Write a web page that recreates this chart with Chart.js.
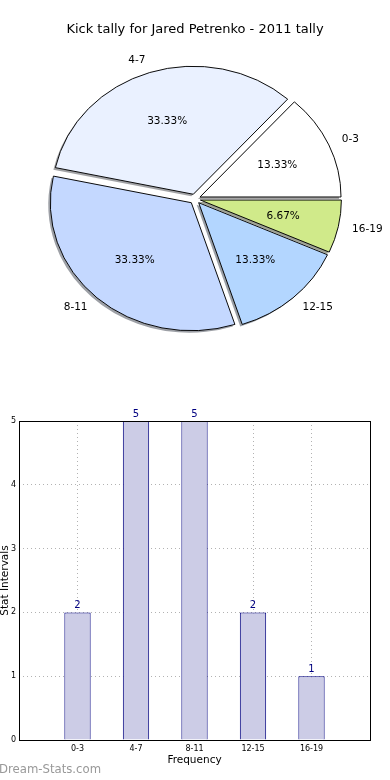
<!DOCTYPE html>
<html><head><meta charset="utf-8">
<script src="https://cdn.jsdelivr.net/npm/chart.js@4/dist/chart.umd.min.js"></script>
<style>
html,body{margin:0;padding:0;background:#fff;width:390px;height:780px;overflow:hidden}
#pie{position:absolute;left:0;top:0}
#bar{position:absolute;left:0;top:396px}
</style></head><body>
<canvas id="pie" width="390" height="398"></canvas>
<canvas id="bar" width="390" height="384"></canvas>
<script>
const chartTitle = 'Kick tally for Jared Petrenko - 2011 tally';
const categories = ['0-3', '4-7', '8-11', '12-15', '16-19'];
const counts = [2, 5, 5, 2, 1];
const yTicks = [0, 1, 2, 3, 4, 5];
const sliceColors = ['#ffffff', '#eaf1ff', '#c4d8ff', '#b3d6ff', '#d0ea8a'];
const xAxisTitle = 'Frequency';
const yAxisTitle = 'Stat Intervals';
const watermark = 'Dream-Stats.com';

const FONT = "'DejaVu Sans', sans-serif";
const total = counts.reduce((a, b) => a + b, 0);
const pct = counts.map(v => (v / total * 100).toFixed(2) + '%');

// pie drawn counter-clockwise from east (matplotlib style): reverse for Chart.js
const pieLabels = categories.slice().reverse();
const pieData = counts.slice().reverse();
const pieColors = sliceColors.slice().reverse();
const piePct = pct.slice().reverse();

const K = 128 / 141;   // vertical squash of the pie (elliptical axes)
const EXPLODE = 5.5;   // radial explode distance (px)

function shadowOf(hex) {
  const n = parseInt(hex.slice(1), 16);
  const r = (n >> 16) & 255, g = (n >> 8) & 255, b = n & 255;
  return `rgba(${Math.round(r * 0.3)},${Math.round(g * 0.3)},${Math.round(b * 0.3)},0.5)`;
}

const pieShape = {
  id: 'pieShape',
  beforeDatasetsDraw(chart) {
    const ctx = chart.ctx;
    const meta = chart.getDatasetMeta(0);
    meta.data.forEach(arc => {
      if (arc._baseX === undefined) { arc._baseX = arc.x; arc._baseY = arc.y; }
      const mid = (arc.startAngle + arc.endAngle) / 2;
      arc.x = arc._baseX + Math.cos(mid) * EXPLODE;
      arc.y = arc._baseY + Math.sin(mid) * EXPLODE;
    });
    const cx = meta.data[0]._baseX, cy = meta.data[0]._baseY;
    ctx.save();
    ctx.translate(cx, cy); ctx.scale(1, K); ctx.translate(-cx, -cy);
    meta.data.forEach((arc, i) => {
      ctx.save();
      ctx.translate(-2, 2 / K);
      ctx.beginPath();
      ctx.moveTo(arc.x, arc.y);
      ctx.arc(arc.x, arc.y, arc.outerRadius, arc.startAngle, arc.endAngle);
      ctx.closePath();
      ctx.fillStyle = shadowOf(pieColors[i]);
      ctx.fill();
      ctx.restore();
    });
  },
  afterDatasetsDraw(chart) {
    const ctx = chart.ctx;
    ctx.restore();
    const meta = chart.getDatasetMeta(0);
    const cy = meta.data[0]._baseY;
    ctx.save();
    ctx.fillStyle = '#000';
    ctx.font = '10.5px ' + FONT;
    meta.data.forEach((arc, i) => {
      const mid = (arc.startAngle + arc.endAngle) / 2;
      const c = Math.cos(mid), s = Math.sin(mid);
      const ox = arc.x, oy = cy + (arc.y - cy) * K;
      const R = arc.outerRadius;
      ctx.textBaseline = 'middle';
      ctx.textAlign = c > 0 ? 'left' : 'right';
      ctx.fillText(pieLabels[i], ox + 1.1 * R * c, oy + 1.1 * R * K * s);
      ctx.textAlign = 'center';
      ctx.fillText(piePct[i], ox + 0.6 * R * c, oy + 0.6 * R * K * s);
    });
    ctx.font = '13px ' + FONT;
    ctx.textAlign = 'center';
    ctx.textBaseline = 'middle';
    ctx.fillText(chartTitle, 195, 30);
    ctx.restore();
  }
};

new Chart(document.getElementById('pie'), {
  type: 'pie',
  data: {
    labels: pieLabels,
    datasets: [{
      data: pieData,
      backgroundColor: pieColors,
      borderColor: '#000',
      borderWidth: 1,
      clip: false
    }]
  },
  options: {
    responsive: false,
    animation: false,
    events: [],
    rotation: 90,
    radius: 141,
    layout: { padding: 0 },
    plugins: { legend: { display: false }, tooltip: { enabled: false }, title: { display: false } }
  },
  plugins: [pieShape]
});

// ---- bar chart ----
const xLabels = [''].concat(categories, ['']);
const barValues = [null].concat(counts, [null]);

const barExtras = {
  id: 'barExtras',
  afterDraw(chart) {
    const ctx = chart.ctx;
    const a = chart.chartArea;
    ctx.save();
    ctx.strokeStyle = '#000';
    ctx.lineWidth = 1;
    ctx.strokeRect(Math.round(a.left) + 0.5, Math.round(a.top) + 0.5, Math.round(a.right - a.left), Math.round(a.bottom - a.top));
    const meta = chart.getDatasetMeta(0);
    ctx.fillStyle = '#000080';
    ctx.font = '10px ' + FONT;
    ctx.textAlign = 'center';
    ctx.textBaseline = 'alphabetic';
    meta.data.forEach((el, i) => {
      if (barValues[i] == null) return;
      ctx.fillText(String(barValues[i]), el.x, el.y - 4);
    });
    ctx.fillStyle = '#000';
    ctx.font = '10.5px ' + FONT;
    ctx.textBaseline = 'middle';
    ctx.fillText(xAxisTitle, (a.left + a.right) / 2, 364);
    ctx.save();
    ctx.translate(7.5, (a.top + a.bottom) / 2);
    ctx.rotate(-Math.PI / 2);
    ctx.textBaseline = 'alphabetic';
    ctx.fillText(yAxisTitle, 0, 0);
    ctx.restore();
    ctx.fillStyle = '#999999';
    ctx.font = '11.7px ' + FONT;
    ctx.textAlign = 'left';
    ctx.textBaseline = 'middle';
    ctx.fillText(watermark, -1, 374);
    ctx.restore();
  }
};

new Chart(document.getElementById('bar'), {
  type: 'bar',
  data: {
    labels: xLabels,
    datasets: [{
      data: barValues,
      backgroundColor: '#cccce6',
      borderColor: '#000080',
      borderWidth: 1,
      inflateAmount: 0,
      barPercentage: 0.45,
      categoryPercentage: 1
    }]
  },
  options: {
    responsive: false,
    animation: false,
    events: [],
    layout: { padding: { left: 0, right: 20, top: 25, bottom: 0 } },
    plugins: { legend: { display: false }, tooltip: { enabled: false } },
    scales: {
      x: {
        offset: false,
        z: 1,
        grid: { offset: false, color: 'rgba(0,0,0,0.3)', lineWidth: 1, drawTicks: false },
        border: { display: false, dash: [1, 3] },
        ticks: { font: { size: 8, family: FONT }, color: '#000', padding: 4, maxRotation: 0, autoSkip: false },
        afterFit(s) { s.height = 40; }
      },
      y: {
        min: yTicks[0],
        max: yTicks[yTicks.length - 1],
        z: 1,
        afterBuildTicks(s) { s.ticks = yTicks.map(v => ({ value: v })); },
        grid: { color: 'rgba(0,0,0,0.3)', lineWidth: 1, drawTicks: false },
        border: { display: false, dash: [1, 3] },
        ticks: { font: { size: 8, family: FONT }, color: '#000', padding: 3 },
        afterFit(s) { s.width = 19; }
      }
    }
  },
  plugins: [barExtras]
});
</script>
</body></html>
